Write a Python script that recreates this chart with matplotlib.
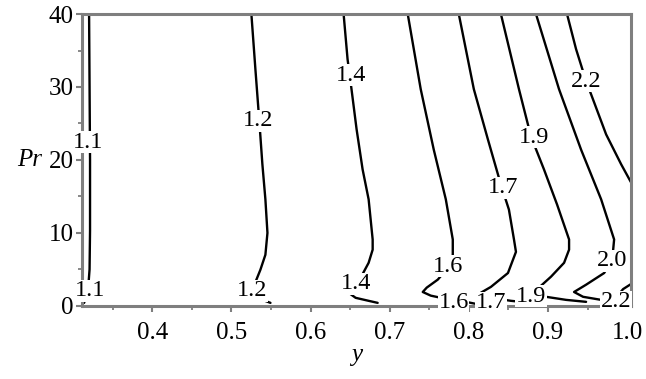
import matplotlib.pyplot as plt
from matplotlib.ticker import MultipleLocator

# contour lines: (y, Pr) points, top to bottom
c11_y = [0.3203, 0.3209, 0.3215, 0.3215, 0.3209, 0.3190, 0.3165, 0.3139]
c11_pr = [40, 30, 20, 10.3, 5.0, 2.2, 1.1, 0.4]

c12_y = [0.5253, 0.5304, 0.5354, 0.5392, 0.5430, 0.5456, 0.5430, 0.5367,
         0.5291, 0.5253, 0.5291, 0.5392, 0.5494]
c12_pr = [40, 32.4, 25.2, 19.4, 14.6, 10.0, 7.0, 4.95, 2.9, 1.9, 1.24, 0.82, 0.41]

c14_y = [0.6418, 0.6468, 0.6506, 0.6582, 0.6658, 0.6734, 0.6785, 0.6785,
         0.6734, 0.6633, 0.6532, 0.6481, 0.6570, 0.6734, 0.6848]
c14_pr = [40, 33.8, 30.7, 24.2, 18.7, 14.6, 9.1, 7.7, 5.9, 3.85, 2.6, 1.8,
          1.1, 0.69, 0.41]

c16_y = [0.7228, 0.7392, 0.7557, 0.7709, 0.7797, 0.7797, 0.7734, 0.7608,
         0.7468, 0.7418, 0.7519, 0.7709, 0.7962, 0.8089]
c16_pr = [40, 29.7, 21.4, 14.6, 9.1, 7.0, 5.2, 3.6, 2.5, 1.9, 1.4, 0.96,
          0.55, 0.27]

c17_y = [0.7873, 0.8063, 0.8241, 0.8405, 0.8506, 0.8570, 0.8595, 0.8494,
         0.8279, 0.8152, 0.8279, 0.8532, 0.8785]
c17_pr = [40, 29.7, 22.8, 16.6, 13.2, 9.1, 7.4, 4.5, 2.6, 1.8, 1.1, 0.69, 0.41]

c19_y = [0.8405, 0.8633, 0.8785, 0.8949, 0.9114, 0.9266, 0.9266, 0.9203,
         0.9038, 0.8911, 0.8873, 0.8975, 0.9228, 0.9481]
c19_pr = [40, 29.7, 23.2, 18.7, 13.9, 9.1, 7.7, 5.9, 4.0, 2.75, 2.2, 1.24,
          0.82, 0.55]

c20_y = [0.8848, 0.9139, 0.9418, 0.9671, 0.9835, 0.9823, 0.9810, 0.9709,
         0.9481, 0.9329, 0.9443, 0.9671, 0.9987, 1.005]
c20_pr = [40, 29.7, 21.4, 14.6, 9.1, 7.7, 6.3, 4.5, 2.9, 1.9, 1.24, 0.82,
          0.55, 0.5]

c22_y = [0.9240, 0.9354, 0.9481, 0.9544, 0.9734, 0.9924, 1.005]
c22_pr = [40, 35.2, 30.8, 29.0, 23.5, 19.4, 16.9]
c22b_y = [1.005, 0.9949, 0.9899, 0.9949, 1.005]
c22b_pr = [3.0, 2.3, 1.65, 1.1, 0.8]

# inline contour labels
label_text = ['1.1', '1.1', '1.2', '1.2', '1.4', '1.4', '1.6', '1.6',
              '1.7', '1.7', '1.9', '1.9', '2.0', '2.0', '2.2', '2.2']
label_y = [0.3190, 0.3215, 0.5342, 0.5266, 0.6506, 0.6570, 0.7734, 0.7810,
           0.8430, 0.8279, 0.8823, 0.8785, 0.9810, 0.9861, 0.9481, 0.9861]
label_pr = [22.4, 2.1, 25.4, 2.06, 31.6, 3.0, 5.4, 0.4,
            16.2, 0.4, 23.1, 1.3, 6.2, 0.4, 30.8, 0.55]

serif = 'Liberation Serif'
fig = plt.figure(figsize=(6.46, 3.79), dpi=100)
ax = fig.add_axes([0.127, 0.193, 0.850, 0.770])

lines = [(c11_y, c11_pr), (c12_y, c12_pr), (c14_y, c14_pr), (c16_y, c16_pr),
         (c17_y, c17_pr), (c19_y, c19_pr), (c20_y, c20_pr), (c22_y, c22_pr),
         (c22b_y, c22b_pr)]
for xs, ys in lines:
    ax.plot(xs, ys, color='black', lw=1.7, solid_capstyle='round', zorder=2)

for t, x, y in zip(label_text, label_y, label_pr):
    ax.text(x, y, t, fontsize=17.5, family=serif, ha='center', va='center',
            color='black', zorder=3, clip_on=False,
            bbox=dict(boxstyle='square,pad=0.02', fc='white', ec='none'))

ax.set_xlim(0.3114, 1.005)
ax.set_ylim(0, 40)
ax.xaxis.set_major_locator(MultipleLocator(0.1))
ax.xaxis.set_minor_locator(MultipleLocator(0.05))
ax.yaxis.set_major_locator(MultipleLocator(10))
ax.yaxis.set_minor_locator(MultipleLocator(5))

spine_col = '#7f7f7f'
for s in ax.spines.values():
    s.set_color(spine_col)
    s.set_linewidth(2.2)

ax.tick_params(which='major', direction='out', length=4.5, width=1.5,
               color=spine_col, labelsize=18, pad=1.5)
ax.tick_params(which='minor', direction='out', length=3, width=1.3,
               color=spine_col)
ax.tick_params(axis='x', which='major', pad=7)
for lab in ax.get_xticklabels() + ax.get_yticklabels():
    lab.set_family(serif)

ax.set_xlabel('y', fontsize=18, family=serif, style='italic', labelpad=0)
ax.set_ylabel('Pr', fontsize=18, family=serif, style='italic', rotation=0,
              ha='right', va='center')
ax.yaxis.set_label_coords(-0.072, 0.5)

fig.savefig('out.png', dpi=100)
